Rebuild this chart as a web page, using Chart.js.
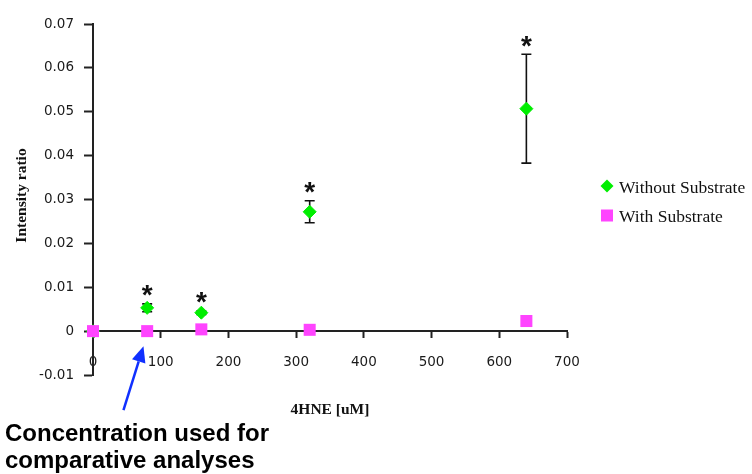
<!DOCTYPE html>
<html>
<head>
<meta charset="utf-8">
<script src="https://cdn.jsdelivr.net/npm/chart.js@4.4.1/dist/chart.umd.min.js"></script>
<style>
  html, body { margin: 0; padding: 0; background: #fff; }
  canvas { display: block; }
</style>
</head>
<body>
<canvas id="chart" width="752" height="474"></canvas>
<script>
// 4HNE concentrations (uM)
const concentrations = [0, 80, 160, 320, 640];
// Intensity ratio without substrate, with its error
const withoutSubstrate = [0, 0.0053, 0.0042, 0.0272, 0.0507];
const withoutSubstrateErr = [0, 0.0009, 0.0004, 0.0025, 0.0124];
// Intensity ratio with substrate
const withSubstrate = [0, 0, 0.0004, 0.0003, 0.0023];
// Points marked as significant (asterisk)
const significant = [false, true, true, true, true];

const seriesNames = ['Without Substrate', 'With Substrate'];
const xTickValues = [0, 100, 200, 300, 400, 500, 600, 700];
const yTickValues = [-0.01, 0, 0.01, 0.02, 0.03, 0.04, 0.05, 0.06, 0.07];
const xTitle = '4HNE [uM]';
const yTitle = 'Intensity ratio';
const noteLines = ['Concentration used for', 'comparative analyses'];
const noteConcentration = 80;

const GREEN = '#00ee00';
const PINK = '#ff44ff';
const AXIS = '#222222';

function toPoints(xs, ys) {
  return xs.map((x, i) => ({ x: x, y: ys[i] }));
}

// Error bars behind the "without substrate" markers
const errorBarPlugin = {
  id: 'errorBars',
  beforeDatasetsDraw(chart) {
    const ctx = chart.ctx;
    const xs = chart.scales.x, ys = chart.scales.y;
    ctx.save();
    ctx.strokeStyle = '#111';
    ctx.lineWidth = 1.6;
    concentrations.forEach((c, i) => {
      const e = withoutSubstrateErr[i];
      if (!e) return;
      const px = xs.getPixelForValue(c);
      const top = ys.getPixelForValue(withoutSubstrate[i] + e);
      const bot = ys.getPixelForValue(withoutSubstrate[i] - e);
      ctx.beginPath();
      ctx.moveTo(px, top); ctx.lineTo(px, bot);
      ctx.moveTo(px - 5, top); ctx.lineTo(px + 5, top);
      ctx.moveTo(px - 5, bot); ctx.lineTo(px + 5, bot);
      ctx.stroke();
    });
    ctx.restore();
  }
};

// Asterisks, legend, axis titles and the note with its arrow
const overlayPlugin = {
  id: 'overlay',
  afterDraw(chart) {
    const ctx = chart.ctx;
    const xs = chart.scales.x, ys = chart.scales.y;
    const area = chart.chartArea;
    ctx.save();

    // significance asterisks above the error bars
    ctx.fillStyle = '#111';
    ctx.font = 'bold 28px "Liberation Sans", Arial, sans-serif';
    ctx.textAlign = 'center';
    ctx.textBaseline = 'alphabetic';
    const m = ctx.measureText('*');
    const midOff = (m.actualBoundingBoxAscent - m.actualBoundingBoxDescent) / 2;
    concentrations.forEach((c, i) => {
      if (!significant[i]) return;
      const px = xs.getPixelForValue(c);
      const top = ys.getPixelForValue(withoutSubstrate[i] + withoutSubstrateErr[i]);
      ctx.fillText('*', px, top - 13 + midOff);
    });

    // legend
    const lx = area.right + 40;
    ctx.fillStyle = GREEN;
    ctx.beginPath();
    ctx.moveTo(lx, 179.5); ctx.lineTo(lx + 6.5, 186); ctx.lineTo(lx, 192.5); ctx.lineTo(lx - 6.5, 186);
    ctx.closePath(); ctx.fill();
    ctx.fillStyle = PINK;
    ctx.fillRect(lx - 6, 209.5, 12, 12);
    ctx.fillStyle = '#111';
    ctx.font = '17.5px "Liberation Serif", "Times New Roman", serif';
    ctx.textAlign = 'left';
    ctx.fillText(seriesNames[0], lx + 12, 192.5);
    ctx.fillText(seriesNames[1], lx + 12, 222);

    // axis titles
    ctx.font = 'bold 15.5px "Liberation Serif", "Times New Roman", serif';
    ctx.textAlign = 'center';
    ctx.fillText(xTitle, (area.left + area.right) / 2, 413.5);
    ctx.save();
    ctx.translate(26, (area.top + area.bottom) / 2 - 4);
    ctx.rotate(-Math.PI / 2);
    ctx.fillText(yTitle, 0, 0);
    ctx.restore();

    // arrow pointing at the concentration used
    const ax = xs.getPixelForValue(noteConcentration);
    const ay = ys.getPixelForValue(0);
    const tipX = ax - 3.7, tipY = ay + 15;
    const tailX = ax - 23.7, tailY = ay + 79;
    const ang = Math.atan2(tipY - tailY, tipX - tailX);
    const headLen = 16, headHalf = 7;
    const bx = tipX - headLen * Math.cos(ang), by = tipY - headLen * Math.sin(ang);
    ctx.strokeStyle = '#1030ff';
    ctx.fillStyle = '#1030ff';
    ctx.lineWidth = 2.5;
    ctx.beginPath();
    ctx.moveTo(tailX, tailY); ctx.lineTo(bx, by);
    ctx.stroke();
    ctx.beginPath();
    ctx.moveTo(tipX, tipY);
    ctx.lineTo(bx + headHalf * Math.sin(ang), by - headHalf * Math.cos(ang));
    ctx.lineTo(bx - headHalf * Math.sin(ang), by + headHalf * Math.cos(ang));
    ctx.closePath(); ctx.fill();

    // note text
    ctx.fillStyle = '#000';
    ctx.font = 'bold 24px "Liberation Sans", Arial, sans-serif';
    ctx.textAlign = 'left';
    ctx.fillText(noteLines[0], 5, 441);
    ctx.fillText(noteLines[1], 5, 468);

    ctx.restore();
  }
};

const tickFont = { family: '"DejaVu Sans", sans-serif', size: 13.5 };

new Chart(document.getElementById('chart'), {
  type: 'scatter',
  data: {
    datasets: [
      {
        label: seriesNames[0],
        data: toPoints(concentrations, withoutSubstrate),
        pointStyle: 'rectRot',
        pointRadius: 6.5,
        backgroundColor: GREEN,
        borderColor: GREEN,
        borderWidth: 1,
        order: 1,
        clip: false
      },
      {
        label: seriesNames[1],
        data: toPoints(concentrations, withSubstrate),
        pointStyle: 'rect',
        pointRadius: 8.5,
        backgroundColor: PINK,
        borderColor: PINK,
        borderWidth: 0,
        order: 0,
        clip: false
      }
    ]
  },
  options: {
    responsive: false,
    animation: false,
    events: [],
    devicePixelRatio: 1,
    layout: { padding: { top: 24, right: 185, bottom: 99, left: 0 } },
    plugins: { legend: { display: false }, tooltip: { enabled: false } },
    scales: {
      x: {
        type: 'linear',
        position: { y: 0 },
        min: 0,
        max: 700,
        afterBuildTicks: s => { s.ticks = xTickValues.map(v => ({ value: v })); },
        afterFit: s => { s.height = 0; },
        grid: { drawOnChartArea: false, drawTicks: true, tickLength: 6, tickWidth: 2, tickColor: AXIS },
        border: { display: true, color: AXIS, width: 2 },
        ticks: { font: tickFont, color: '#1a1a1a', padding: 17, maxRotation: 0, autoSkip: false,
                 callback: v => String(v) }
      },
      y: {
        type: 'linear',
        position: 'left',
        min: -0.01,
        max: 0.07,
        afterBuildTicks: s => { s.ticks = yTickValues.map(v => ({ value: v })); },
        afterFit: s => { s.width = 93; },
        grid: { drawOnChartArea: false, drawTicks: true, tickLength: 9, tickWidth: 2, tickColor: AXIS },
        border: { display: true, color: AXIS, width: 2 },
        ticks: { font: tickFont, color: '#1a1a1a', padding: 10, autoSkip: false,
                 callback: v => (v === 0 ? '0' : v.toFixed(2)) }
      }
    }
  },
  plugins: [errorBarPlugin, overlayPlugin]
});
</script>
</body>
</html>
